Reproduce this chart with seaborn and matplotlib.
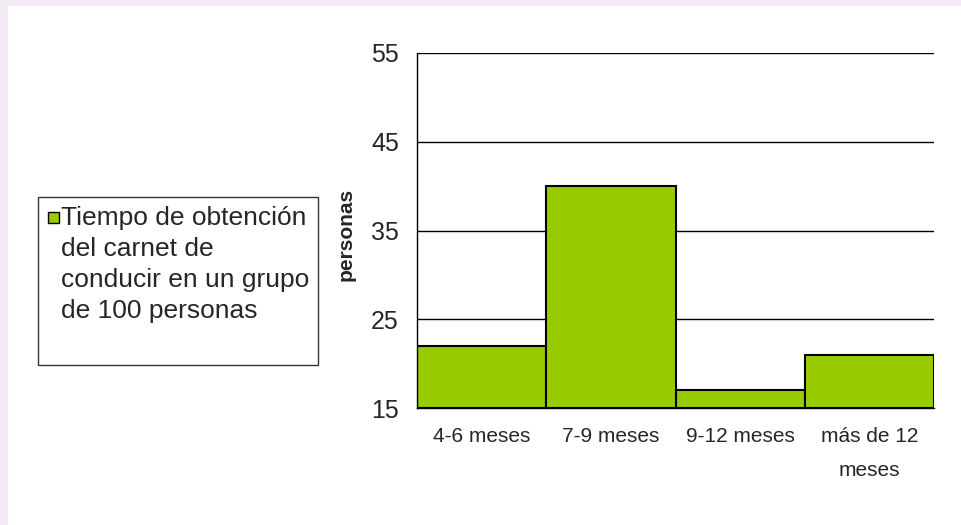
import numpy as np
import pandas as pd
import matplotlib
matplotlib.use("Agg")
import matplotlib.pyplot as plt
from matplotlib.patches import Rectangle
import seaborn as sns

categories = ["4-6 meses", "7-9 meses", "9-12 meses", "más de 12\nmeses"]
personas = [22, 40, 17, 21]
legend_label = "Tiempo de obtención\ndel carnet de\nconducir en un grupo\nde 100 personas"
y_ticks = [15, 25, 35, 45, 55]

sns.set_style("white")
plt.rcParams['font.family'] = ['Liberation Sans', 'DejaVu Sans']

df = pd.DataFrame({"cat": categories, "personas": personas})

fig = plt.figure(figsize=(9.62, 5.25), dpi=100)
ax = fig.add_axes([417/962, 1-408/525, (934-417)/962, (408-53)/525])

# faint pink border like the slide background
fig.patches.append(Rectangle((0, 0), 7/962, 1, transform=fig.transFigure,
                             color="#f3eaf3", zorder=0))
fig.patches.append(Rectangle((0, 1-5/525), 1, 5/525, transform=fig.transFigure,
                             color="#f3eaf3", zorder=0))

ax.grid(axis="y", color="black", linewidth=1)
ax.set_axisbelow(True)

sns.barplot(data=df, x="cat", y="personas", ax=ax, color="#99cc00",
            width=1.0, edgecolor="black", linewidth=1.5, saturation=1)
# bars start from the axis bottom (15), like Excel
for p in ax.patches:
    h = p.get_height()
    p.set_y(15)
    p.set_height(h - 15)

ax.set_ylim(15, 55)
ax.set_xlim(-0.5, 3.5)
ax.set_yticks(y_ticks)
ax.set_xticks(np.arange(-0.5, 4, 1), minor=False)
ax.set_xticklabels([])
ax.set_xticks(np.arange(0, 4), minor=True)
ax.set_xticklabels(categories, minor=True, fontsize=15)
ax.tick_params(axis="x", which="minor", length=0, pad=14)
ax.tick_params(axis="x", which="major", length=6, width=1, color="black", direction="out")
ax.tick_params(axis="y", length=6, width=1, color="black", direction="out", labelsize=18, pad=7)
for lab in ax.get_xticklabels(minor=True):
    lab.set_linespacing(1.95)
ax.set_xlabel("")
ax.set_ylabel("personas", fontsize=15, fontweight="bold")
ax.yaxis.set_label_coords(-0.118, 0.49)

for s in ["left", "bottom"]:
    ax.spines[s].set_color("black")
    ax.spines[s].set_linewidth(1)
for s in ["top", "right"]:
    ax.spines[s].set_visible(False)

# legend box drawn by hand
fig.patches.append(Rectangle((38/962, 1-365/525), 280/962, 168/525,
                             transform=fig.transFigure, facecolor="white",
                             edgecolor="#333333", linewidth=1, zorder=1))
fig.patches.append(Rectangle((48/962, 1-223/525), 11/962, 11/525,
                             transform=fig.transFigure, facecolor="#99cc00",
                             edgecolor="black", linewidth=1, zorder=2))
fig.text(61/962, 1-206/525, legend_label, fontsize=19, va="top", ha="left",
         linespacing=1.37, zorder=3)

plt.savefig("out.png", dpi=100)
